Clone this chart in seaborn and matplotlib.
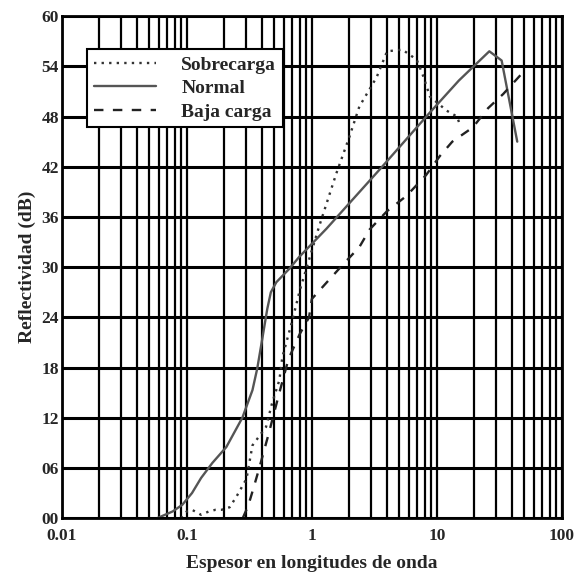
import numpy as np
import pandas as pd
import matplotlib.pyplot as plt
import seaborn as sns
from matplotlib.ticker import FixedLocator, LogLocator, NullFormatter

# Sobrecarga (dotted)
sobre_x = [0.09, 0.10, 0.11, 0.13, 0.15, 0.17, 0.19, 0.22, 0.25, 0.30, 0.335, 0.43, 0.48,
           0.55, 0.58, 0.70, 0.80, 1.14, 1.57, 2.0, 2.4, 3.3, 4.0, 5.3, 6.9, 7.8, 8.8,
           12.0, 14.5, 15.5]
sobre_y = [0.0, 0.8, 1.0, 0.4, 0.8, 1.0, 1.0, 1.3, 2.6, 4.7, 8.7, 10.9, 13.7,
           16.5, 19.2, 23.7, 27.2, 34.8, 41.2, 45.6, 49.2, 52.7, 55.8, 56.0, 54.8, 52.8, 50.4,
           48.7, 48.0, 46.8]

# Normal (solid)
normal_x = [0.058, 0.077, 0.092, 0.11, 0.13, 0.16, 0.207, 0.278, 0.335, 0.366, 0.40, 0.44,
            0.47, 0.52, 0.66, 0.79, 1.31, 3.6, 8.7, 15.0, 26.3, 33.0, 44.0]
normal_y = [0.0, 0.8, 1.6, 3.0, 4.8, 6.6, 8.5, 12.0, 15.3, 17.9, 21.3, 25.0,
            27.0, 28.2, 29.8, 31.2, 34.6, 41.9, 48.4, 52.3, 55.8, 54.7, 45.0]

# Baja carga (dashed)
baja_x = [0.28, 0.31, 0.34, 0.38, 0.45, 0.55, 0.65, 0.80, 0.95, 1.0, 1.32, 1.77, 2.4, 2.9,
          4.0, 5.7, 8.2, 10.6, 13.3, 19.4, 25.7, 34.0, 47.0]
baja_y = [0.0, 1.5, 3.5, 6.0, 10.0, 15.0, 19.0, 22.0, 24.0, 26.2, 28.2, 30.3, 32.4, 34.5,
          36.7, 38.5, 41.0, 43.3, 45.0, 46.7, 49.0, 50.7, 53.0]

series_names = ["Sobrecarga", "Normal", "Baja carga"]

y_ticks = [0, 6, 12, 18, 24, 30, 36, 42, 48, 54, 60]
y_labels = ["00", "06", "12", "18", "24", "30", "36", "42", "48", "54", "60"]
x_ticks = [0.01, 0.1, 1, 10, 100]
x_labels = ["0.01", "0.1", "1", "10", "100"]

df = pd.concat([
    pd.DataFrame({"x": sobre_x, "y": sobre_y, "serie": series_names[0]}),
    pd.DataFrame({"x": normal_x, "y": normal_y, "serie": series_names[1]}),
    pd.DataFrame({"x": baja_x, "y": baja_y, "serie": series_names[2]}),
])

sns.set_style("white")
plt.rcParams["font.family"] = ["Liberation Serif", "DejaVu Serif"]
plt.rcParams["font.weight"] = "bold"

fig = plt.figure(figsize=(5.78, 5.77), dpi=100)
ax = fig.add_axes([0.107, 0.102, 0.865, 0.870])

ax.set_xscale("log")
ax.set_xlim(0.01, 100)
ax.set_ylim(0, 60)

# grid: every log line vertically, every 6 dB horizontally
ax.xaxis.set_major_locator(FixedLocator(x_ticks))
ax.xaxis.set_minor_locator(LogLocator(base=10, subs=np.arange(2, 10)))
ax.xaxis.set_minor_formatter(NullFormatter())
ax.set_xticks(x_ticks)
ax.set_xticklabels(x_labels)
ax.set_yticks(y_ticks)
ax.set_yticklabels(y_labels)
ax.grid(True, which="both", axis="x", color="black", linewidth=1.6)
ax.grid(True, which="major", axis="y", color="black", linewidth=2.2)
ax.set_axisbelow(True)
ax.tick_params(which="both", length=0, labelsize=12.5)
ax.tick_params(axis="x", which="major", pad=7)
ax.tick_params(axis="y", which="major", pad=2)
for lbl in ax.get_xticklabels() + ax.get_yticklabels():
    lbl.set_fontweight("bold")

styles = {
    "Sobrecarga": dict(color="#333333", linestyle=(0, (1, 2.2)), linewidth=1.7),
    "Normal": dict(color="#555555", linestyle="-", linewidth=1.7),
    "Baja carga": dict(color="#222222", linestyle=(0, (4, 4)), linewidth=1.7),
}
for name in series_names:
    sub = df[df["serie"] == name]
    sns.lineplot(data=sub, x="x", y="y", ax=ax, sort=False, estimator=None,
                 label=name, **styles[name])

for sp in ax.spines.values():
    sp.set_color("black")
    sp.set_linewidth(2)

ax.set_xlabel("Espesor en longitudes de onda", fontsize=14, fontweight="bold", labelpad=8)
ax.set_ylabel("Reflectividad (dB)", fontsize=14, fontweight="bold", labelpad=4)

leg = ax.legend(loc="upper left", bbox_to_anchor=(0.05, 0.934), borderaxespad=0,
                frameon=True, fancybox=False, framealpha=1, edgecolor="black",
                handlelength=3.2, borderpad=0.35, labelspacing=0.3, handletextpad=1.3,
                prop={"family": "Liberation Serif", "weight": "bold", "size": 14})
leg.get_frame().set_linewidth(1.5)

fig.savefig("out.png", dpi=100, facecolor="white")
